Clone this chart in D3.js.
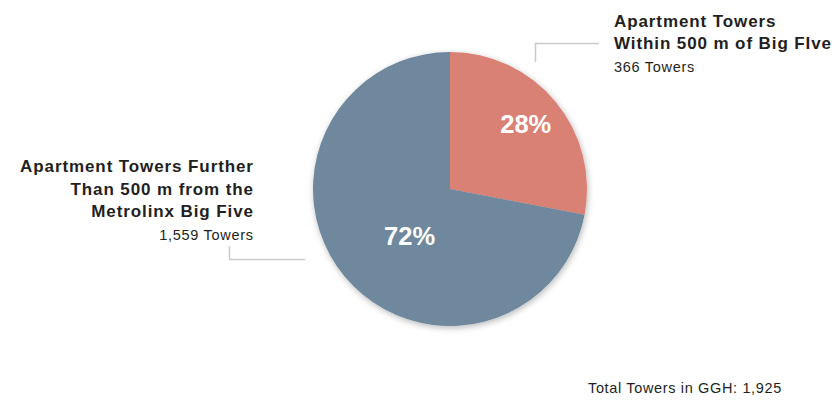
<!DOCTYPE html>
<html>
<head>
<meta charset="utf-8">
<script src="https://cdn.jsdelivr.net/npm/d3@7"></script>
<style>
  body { margin: 0; background: #fff; }
  text { font-family: "Liberation Sans", Arial, sans-serif; }
</style>
</head>
<body>
<div id="pie"></div>
<script>
// chart data
var categories = ["Within 500 m", "Further than 500 m"];
var shares = [28, 72];
var shareLabels = ["28%", "72%"];
var towerCounts = ["366 Towers", "1,559 Towers"];
var titleLines = [
  ["Apartment Towers", "Within 500 m of Big FIve"],
  ["Apartment Towers Further", "Than 500 m from the", "Metrolinx Big Five"]
];
var totalLabel = "Total Towers in GGH: 1,925";

// set the dimensions of the graph
var width = 834, height = 402;
var cx = 450, cy = 189, radius = 137;

var svg = d3.select("#pie")
  .append("svg")
    .attr("width", width)
    .attr("height", height);

// soft shadow round the pie
var defs = svg.append("defs");
defs.append("filter")
    .attr("id", "shadow")
    .attr("x", "-20%").attr("y", "-20%")
    .attr("width", "140%").attr("height", "140%")
  .append("feDropShadow")
    .attr("dx", 1).attr("dy", 2)
    .attr("stdDeviation", 3)
    .attr("flood-color", "#000")
    .attr("flood-opacity", 0.28);

var color = d3.scaleOrdinal()
  .domain(categories)
  .range(["#d98175", "#6f889d"]);

var pie = d3.pie().sort(null).value(function(d){ return d; });
var arcs = pie(shares);

var arc = d3.arc().innerRadius(0).outerRadius(radius);

var g = svg.append("g")
  .attr("transform", "translate(" + cx + "," + cy + ")");

g.append("g")
    .attr("filter", "url(#shadow)")
  .selectAll("path")
  .data(arcs)
  .enter()
  .append("path")
    .attr("d", arc)
    .attr("fill", function(d, i){ return color(categories[i]); });

// percentage labels, placed along each slice
var labelRadius = [100, 62];
var labelAngleShift = [-0.02, -0.17];
g.selectAll("text.pct")
  .data(arcs)
  .enter()
  .append("text")
    .attr("class", "pct")
    .attr("transform", function(d, i) {
      var a = (d.startAngle + d.endAngle) / 2 + labelAngleShift[i];
      var r = labelRadius[i];
      return "translate(" + (Math.sin(a) * r) + "," + (-Math.cos(a) * r) + ")";
    })
    .attr("text-anchor", "middle")
    .attr("dy", "0.36em")
    .style("font-size", "25.5px")
    .style("font-weight", "bold")
    .style("fill", "#fff")
    .text(function(d, i){ return shareLabels[i]; });

// leader lines
var lineColor = "#c9c9c9";
svg.append("path")
    .attr("d", "M599,43.5H535.5V62")
    .attr("fill", "none")
    .attr("stroke", lineColor)
    .attr("stroke-width", 1.5);
svg.append("path")
    .attr("d", "M229.5,246V259.5H305")
    .attr("fill", "none")
    .attr("stroke", lineColor)
    .attr("stroke-width", 1.5);

var boldSpacing = 0.9, regSpacing = 0.7;

// right label (small slice)
var right = svg.append("g");
right.selectAll("text")
  .data(titleLines[0])
  .enter()
  .append("text")
    .attr("x", 614)
    .attr("y", function(d, i){ return 26.5 + i * 22; })
    .style("font-size", "17px")
    .style("font-weight", "bold")
    .style("letter-spacing", boldSpacing + "px")
    .style("fill", "#231f20")
    .text(function(d){ return d; });
right.append("text")
    .attr("x", 614)
    .attr("y", 71.5)
    .style("font-size", "14.5px")
    .style("letter-spacing", regSpacing + "px")
    .style("fill", "#231f20")
    .text(towerCounts[0]);

// left label (big slice)
var left = svg.append("g");
left.selectAll("text")
  .data(titleLines[1])
  .enter()
  .append("text")
    .attr("x", 253 + boldSpacing)
    .attr("y", function(d, i){ return 172 + i * 22.5; })
    .attr("text-anchor", "end")
    .style("font-size", "17px")
    .style("font-weight", "bold")
    .style("letter-spacing", boldSpacing + "px")
    .style("fill", "#231f20")
    .text(function(d){ return d; });
left.append("text")
    .attr("x", 253 + regSpacing)
    .attr("y", 239.5)
    .attr("text-anchor", "end")
    .style("font-size", "14.5px")
    .style("letter-spacing", regSpacing + "px")
    .style("fill", "#231f20")
    .text(towerCounts[1]);

// total
svg.append("text")
    .attr("x", 588)
    .attr("y", 393)
    .style("font-size", "14.5px")
    .style("letter-spacing", "0.65px")
    .style("fill", "#231f20")
    .text(totalLabel);
</script>
</body>
</html>
